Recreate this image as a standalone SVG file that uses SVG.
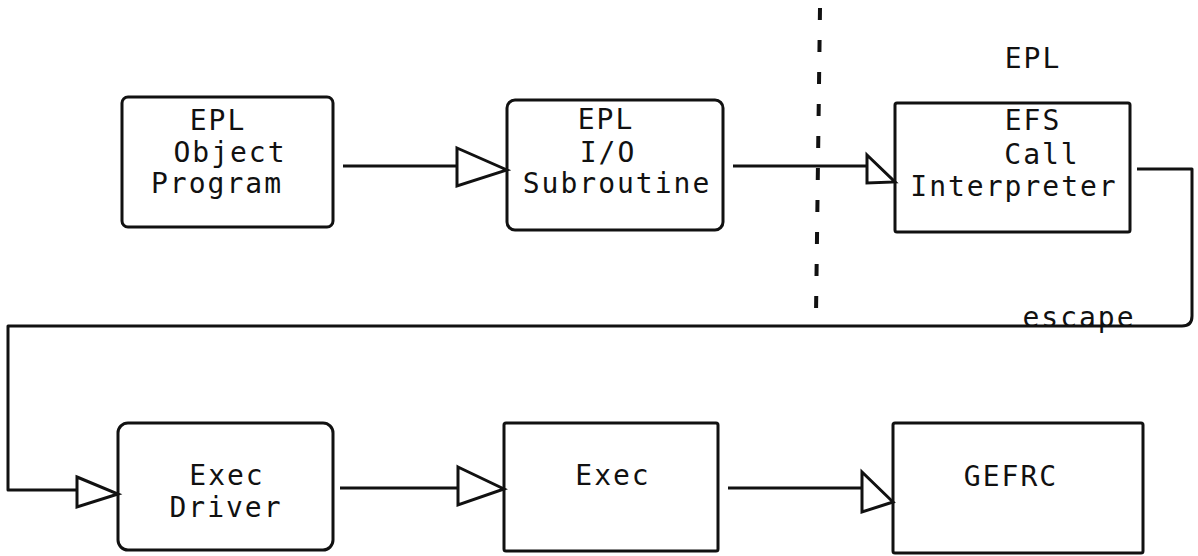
<svg xmlns="http://www.w3.org/2000/svg" width="1198" height="556" viewBox="0 0 1198 556">
<style>
.box{fill:none;stroke:#111;stroke-width:3}
.ln{fill:none;stroke:#111;stroke-width:3;stroke-linejoin:round}
.tri{fill:#fff;stroke:#111;stroke-width:3;stroke-linejoin:miter}
text{font-family:"DejaVu Sans Mono","Liberation Mono",monospace;font-size:28px;fill:#111;text-anchor:middle;letter-spacing:2px}
</style>
<rect width="1198" height="556" fill="#fff"/>
<g id="divider">
<line x1="820" y1="8" x2="816" y2="314" stroke="#111" stroke-width="4" stroke-dasharray="12 20"/>
</g>
<g id="connectors">
<line class="ln" x1="343" y1="166" x2="457" y2="166"/>
<polygon class="tri" points="457,148 507,170 457,186"/>
<line class="ln" x1="733" y1="166" x2="867" y2="166"/>
<polygon class="tri" points="867,155 895,182 867,183"/>
<path class="ln" d="M1137,169 H1192 V316 Q1192,326 1182,326 H8 V490 H77"/>
<polygon class="tri" points="77,477 118,494 77,507"/>
<line class="ln" x1="340" y1="488" x2="458" y2="488"/>
<polygon class="tri" points="458,467 504,489 458,505"/>
<line class="ln" x1="728" y1="488" x2="862" y2="488"/>
<polygon class="tri" points="862,472 893,502 862,512"/>
<text x="1079" y="327">escape</text>
</g>
<g id="label-epl">
<text x="1033" y="68">EPL</text>
</g>
<g id="n1">
<rect class="box" x="122" y="97" width="211" height="130" rx="6"/>
<text x="218" y="130">EPL</text>
<text x="230" y="162">Object</text>
<text x="217" y="193">Program</text>
</g>
<g id="n2">
<rect class="box" x="507" y="100" width="216" height="130" rx="8"/>
<text x="606" y="129">EPL</text>
<text x="608" y="162">I/O</text>
<text x="617" y="193">Subroutine</text>
</g>
<g id="n3">
<rect class="box" x="895" y="103" width="235" height="129" rx="2"/>
<text x="1033" y="130">EFS</text>
<text x="1042" y="164">Call</text>
<text x="1014" y="196">Interpreter</text>
</g>
<g id="n4">
<rect class="box" x="118" y="423" width="215" height="127" rx="10"/>
<text x="227" y="485">Exec</text>
<text x="226" y="517">Driver</text>
</g>
<g id="n5">
<rect class="box" x="504" y="423" width="214" height="128" rx="2"/>
<text x="613" y="485">Exec</text>
</g>
<g id="n6">
<rect class="box" x="893" y="423" width="250" height="130" rx="2"/>
<text x="1011" y="486">GEFRC</text>
</g>
</svg>
